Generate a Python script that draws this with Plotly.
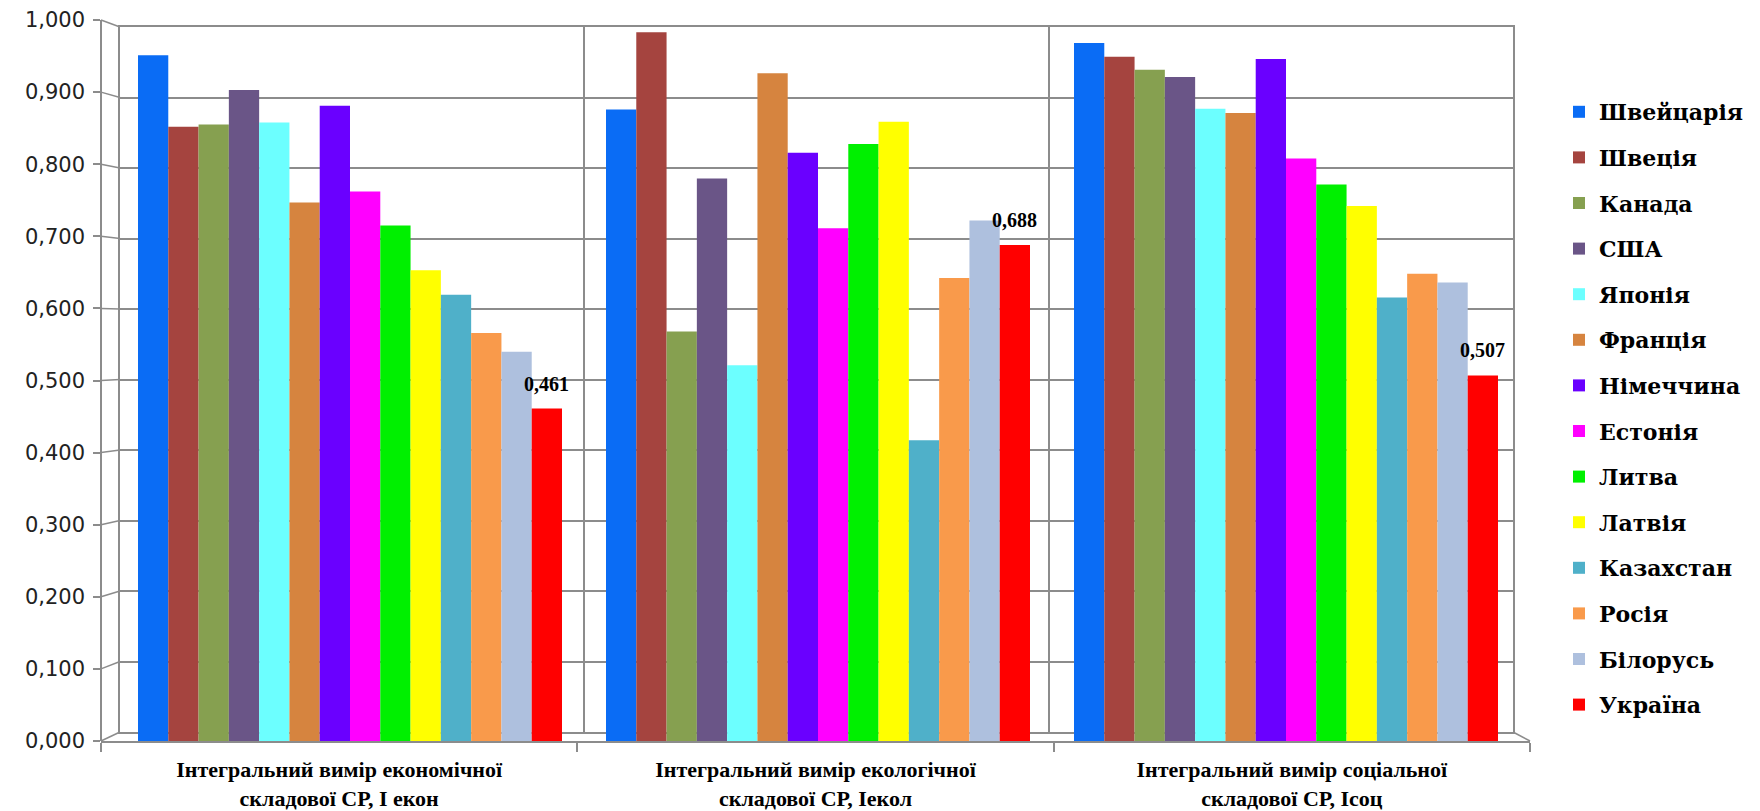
import plotly.graph_objects as go

# ---------------- data ----------------
categories = [
    "Інтегральний вимір економічної<br>складової СР, І екон",
    "Інтегральний вимір екологічної<br>складової СР, Іекол",
    "Інтегральний вимір соціальної<br>складової СР, Ісоц",
]
countries = ["Швейцарія", "Швеція", "Канада", "США", "Японія", "Франція",
             "Німеччина", "Естонія", "Литва", "Латвія", "Казахстан", "Росія",
             "Білорусь", "Україна"]
econ = [0.951, 0.852, 0.855, 0.903, 0.858, 0.747, 0.881, 0.762, 0.715, 0.653,
        0.619, 0.566, 0.540, 0.461]
ecol = [0.876, 0.983, 0.568, 0.780, 0.521, 0.926, 0.816, 0.711, 0.828, 0.859,
        0.417, 0.642, 0.722, 0.688]
soc = [0.968, 0.949, 0.931, 0.921, 0.877, 0.871, 0.946, 0.808, 0.772, 0.742,
       0.615, 0.648, 0.636, 0.507]
colors = ["#0A6CF5", "#A5443F", "#86A050", "#6A5587", "#6CFFFF", "#D6843F",
          "#6A00FF", "#FF00FF", "#00F000", "#FFFF00", "#4FB0C9", "#F99A4B",
          "#AEC0DE", "#FF0000"]
y_ticks = [i / 10 for i in range(11)]
labelled = ["Україна"]

# ---------------- geometry (pixels of 1760x811 canvas) ----------------
W, H = 1760, 811
px = lambda v: v / W
py = lambda v: 1 - v / H

back_x = [px(120), px(1513)]
back_y = [py(732), py(27)]
bar_x = [px(116), px(1520)]
front_y = [py(741), py(20)]
front_x = [px(101), px(1530)]
bargap = 0.094

GRID = "#8C8C8C"

fig = go.Figure()

# back-wall grid subplot (x/y) — invisible helper trace
fig.add_trace(go.Scatter(x=[0, 3], y=[0, 1], mode="markers",
                         marker=dict(opacity=0), showlegend=False,
                         hoverinfo="skip", xaxis="x", yaxis="y"))

# bars (x2/y2)
values = list(zip(econ, ecol, soc))
for i, name in enumerate(countries):
    fig.add_trace(go.Bar(
        x=categories, y=list(values[i]), name=name,
        marker=dict(color=colors[i], line=dict(width=0)),
        xaxis="x2", yaxis="y2", legendgroup=name,
    ))

# front frame (x3/y3) helper
fig.add_trace(go.Scatter(x=categories, y=[0, 0, 0], mode="markers",
                         marker=dict(opacity=0), showlegend=False,
                         hoverinfo="skip", xaxis="x3", yaxis="y3"))

# data labels for Ukraine
cat_w = (1520 - 116) / 3
bw = cat_w * (1 - bargap) / len(countries)
annotations = []
for name in labelled:
    idx = countries.index(name)
    shift = (idx + 0.5 - len(countries) / 2) * bw
    for c, v in zip(categories, values[idx]):
        annotations.append(dict(
            x=c, y=v, xref="x2", yref="y2", xshift=shift, yshift=12,
            yanchor="bottom", showarrow=False,
            text=f"{v:.3f}".replace(".", ","),
            font=dict(family="Liberation Serif", size=20, color="#000",
                      weight="bold"),
        ))

# connectors between front axis and back wall (3D side wall)
shapes = []
for v in y_ticks:
    yf = front_y[0] + v * (front_y[1] - front_y[0])
    yb = back_y[0] + v * (back_y[1] - back_y[0])
    shapes.append(dict(type="line", xref="paper", yref="paper",
                       x0=front_x[0], y0=yf, x1=back_x[0], y1=yb,
                       line=dict(color=GRID, width=1.5)))
shapes.append(dict(type="line", xref="paper", yref="paper",
                   x0=back_x[1], y0=back_y[0], x1=front_x[1], y1=front_y[0],
                   line=dict(color=GRID, width=1.5)))

fig.update_layout(
    width=W, height=H,
    margin=dict(l=0, r=0, t=0, b=0, autoexpand=False),
    paper_bgcolor="white", plot_bgcolor="rgba(0,0,0,0)",
    separators=", ",
    barmode="group", bargap=bargap, bargroupgap=0,
    showlegend=True,
    legend=dict(x=px(1559), y=py(91), xanchor="left", yanchor="top",
                font=dict(family="DejaVu Serif", size=22, color="#000",
                          weight="bold"),
                tracegroupgap=14, bgcolor="rgba(0,0,0,0)"),
    xaxis=dict(domain=back_x, range=[0, 3], showgrid=True, tickvals=[1, 2],
               showticklabels=False, ticks="", gridcolor=GRID, gridwidth=1.5,
               showline=True, mirror=True, linecolor=GRID, linewidth=1.5,
               zeroline=False, automargin=False),
    yaxis=dict(domain=back_y, range=[0, 1], dtick=0.1, showgrid=True,
               showticklabels=False, ticks="", gridcolor=GRID, gridwidth=1.5,
               showline=True, mirror=True, linecolor=GRID, linewidth=1.5,
               zeroline=False, automargin=False),
    xaxis2=dict(domain=bar_x, anchor="y2", visible=False, type="category",
                categoryarray=categories, automargin=False),
    yaxis2=dict(domain=front_y, anchor="x2", range=[0, 1], visible=False,
                automargin=False),
    xaxis3=dict(domain=front_x, anchor="y3", type="category",
                categoryarray=categories, range=[-0.5, 2.5],
                tickson="boundaries", ticks="outside", ticklen=9,
                tickcolor=GRID, tickwidth=1.5, showline=True, linecolor=GRID,
                linewidth=1.5, showgrid=False, ticklabelstandoff=8,
                automargin=False,
                tickfont=dict(family="Liberation Serif", size=22, color="#000",
                              weight="bold")),
    yaxis3=dict(domain=front_y, anchor="free", position=front_x[0],
                range=[0, 1], tickvals=y_ticks, tickformat=".3f",
                ticks="outside", ticklen=7, tickcolor=GRID, tickwidth=1.5,
                showline=True, linecolor=GRID, linewidth=1.5, showgrid=False,
                zeroline=False, ticklabelstandoff=4, automargin=False,
                tickfont=dict(family="DejaVu Sans", size=21, color="#222")),
    annotations=annotations,
    shapes=shapes,
)

fig.write_html("out.html")
